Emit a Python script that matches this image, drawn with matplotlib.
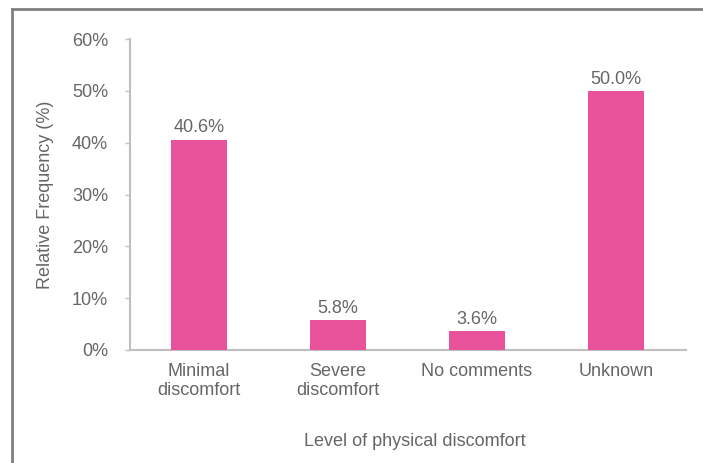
import matplotlib
matplotlib.use("Agg")
import matplotlib.pyplot as plt
from matplotlib.lines import Line2D

categories = ["Minimal\ndiscomfort", "Severe\ndiscomfort", "No comments", "Unknown"]
values = [40.6, 5.8, 3.6, 50.0]
yticks = [0, 10, 20, 30, 40, 50, 60]
ytick_labels = ["0%", "10%", "20%", "30%", "40%", "50%", "60%"]

plt.rcParams['font.family'] = ['Liberation Sans', 'DejaVu Sans']

txt = "#666666"
axc = "#bfbfbf"
barc = "#E8529A"
fs = 13

fig = plt.figure(figsize=(7.03, 4.63), dpi=100)
ax = fig.add_axes([129.5/703, 1-350/463, 556/703, (350-39)/463])

x = list(range(len(categories)))
ax.bar(x, values, width=0.41, color=barc, zorder=3)
for xi, v in zip(x, values):
    ax.text(xi, v + 0.6, f"{v:.1f}%", ha="center", va="bottom", fontsize=fs, color=txt)

ax.set_xlim(-0.5, 3.5)
ax.set_ylim(0, 60)
ax.set_yticks(yticks)
ax.set_yticklabels(ytick_labels, fontsize=fs, color=txt)
ax.set_xticks(x)
ax.set_xticklabels(categories, fontsize=fs, color=txt, linespacing=1.2)
ax.tick_params(axis="y", length=3.5, width=1, color=axc, pad=12)
ax.tick_params(axis="x", length=0, pad=9)
for s in ["top", "right"]:
    ax.spines[s].set_visible(False)
for s in ["left", "bottom"]:
    ax.spines[s].set_color(axc)
    ax.spines[s].set_linewidth(1.5)

ax.set_ylabel("Relative Frequency (%)", fontsize=fs, color=txt, labelpad=13)
fig.text(415/703, 1-441/463, "Level of physical discomfort", ha="center", va="center",
         fontsize=fs, color=txt)

fig.add_artist(Line2D([12/703, 1], [1-9/463, 1-9/463], transform=fig.transFigure,
                      color="#808080", lw=2))
fig.add_artist(Line2D([12/703, 12/703], [1-9/463, 0], transform=fig.transFigure,
                      color="#808080", lw=2))

fig.savefig("out.png", dpi=100)
